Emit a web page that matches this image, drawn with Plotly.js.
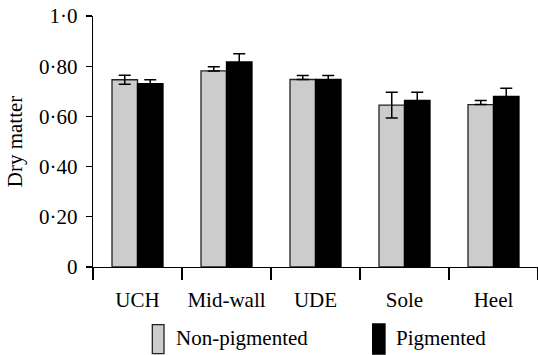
<!DOCTYPE html>
<html>
<head>
<meta charset="utf-8">
<script src="https://cdn.plot.ly/plotly-3.0.1.min.js"></script>
<style>html,body{margin:0;padding:0;background:#fff;}#chart{width:538px;height:355px;}</style>
</head>
<body>
<div id="chart"></div>
<script>
var categories = ["UCH", "Mid-wall", "UDE", "Sole", "Heel"];
var nonPigmented = [0.746, 0.781, 0.747, 0.645, 0.647];
var nonPigErrPlus = [0.018, 0.017, 0.016, 0.051, 0.016];
var nonPigErrMinus = [0.018, 0, 0, 0.051, 0];
var pigmented = [0.730, 0.817, 0.747, 0.664, 0.680];
var pigErr = [0.016, 0.033, 0.016, 0.032, 0.032];
var yTickVals = [0, 0.2, 0.4, 0.6, 0.8, 1.0];
var yTickText = ["0", "0·20", "0·40", "0·60", "0·80", "1·0"];
var seriesNames = ["Non-pigmented", "Pigmented"];

var FONT = "'Liberation Serif', 'Times New Roman', serif";
var FS = 21;

var traces = [
  {
    type: "bar", name: seriesNames[0], x: categories, y: nonPigmented,
    marker: {color: "#cccccc", line: {color: "#222222", width: 1.3}},
    error_y: {type: "data", array: nonPigErrPlus, arrayminus: nonPigErrMinus, symmetric: false,
              color: "#000", thickness: 1.5, width: 6},
    showlegend: false
  },
  {
    type: "bar", name: seriesNames[1], x: categories, y: pigmented,
    marker: {color: "#000000", line: {color: "#000000", width: 1.3}},
    error_y: {type: "data", array: pigErr, color: "#000", thickness: 1.5, width: 6},
    showlegend: false
  }
];

var layout = {
  width: 538, height: 355,
  margin: {l: 93, r: 0, t: 16, b: 88, pad: 0},
  paper_bgcolor: "#fff", plot_bgcolor: "#fff",
  font: {family: FONT, size: FS, color: "#000"},
  barmode: "group", bargap: 0.427, bargroupgap: 0,
  xaxis: {
    type: "category", tickson: "boundaries", ticks: "outside", ticklen: 12, tickwidth: 1.3,
    tickcolor: "#000", showline: true, linecolor: "#000", linewidth: 1.3,
    showgrid: false, zeroline: false, ticklabelstandoff: 13,
    tickfont: {family: FONT, size: FS, color: "#000"}, range: [-0.5, 4.5]
  },
  yaxis: {
    range: [0, 1.0], tickvals: yTickVals, ticktext: yTickText,
    ticks: "outside", ticklen: 6, tickwidth: 1.3, tickcolor: "#000",
    showline: true, linecolor: "#000", linewidth: 1.3, showgrid: false, zeroline: false,
    ticklabelstandoff: 4,
    tickfont: {family: FONT, size: FS, color: "#000"},
    title: {text: "Dry matter", font: {family: FONT, size: FS, color: "#000"}, standoff: 10}
  },
  shapes: [
    {type: "rect", xref: "paper", yref: "paper", x0: 0.1333, x1: 0.1596, y0: -0.345, y1: -0.2296,
     fillcolor: "#cccccc", line: {color: "#222", width: 1.3}},
    {type: "rect", xref: "paper", yref: "paper", x0: 0.6285, x1: 0.6562, y0: -0.347, y1: -0.227,
     fillcolor: "#000", line: {color: "#000", width: 1.3}}
  ],
  annotations: [
    {xref: "paper", yref: "paper", x: 0.1820, y: -0.283, xanchor: "left", yanchor: "middle",
     text: seriesNames[0], showarrow: false, font: {family: FONT, size: FS, color: "#000"}},
    {xref: "paper", yref: "paper", x: 0.6771, y: -0.283, xanchor: "left", yanchor: "middle",
     text: seriesNames[1], showarrow: false, font: {family: FONT, size: FS, color: "#000"}}
  ]
};

Plotly.newPlot("chart", traces, layout, {displayModeBar: false, staticPlot: true});
</script>
</body>
</html>
